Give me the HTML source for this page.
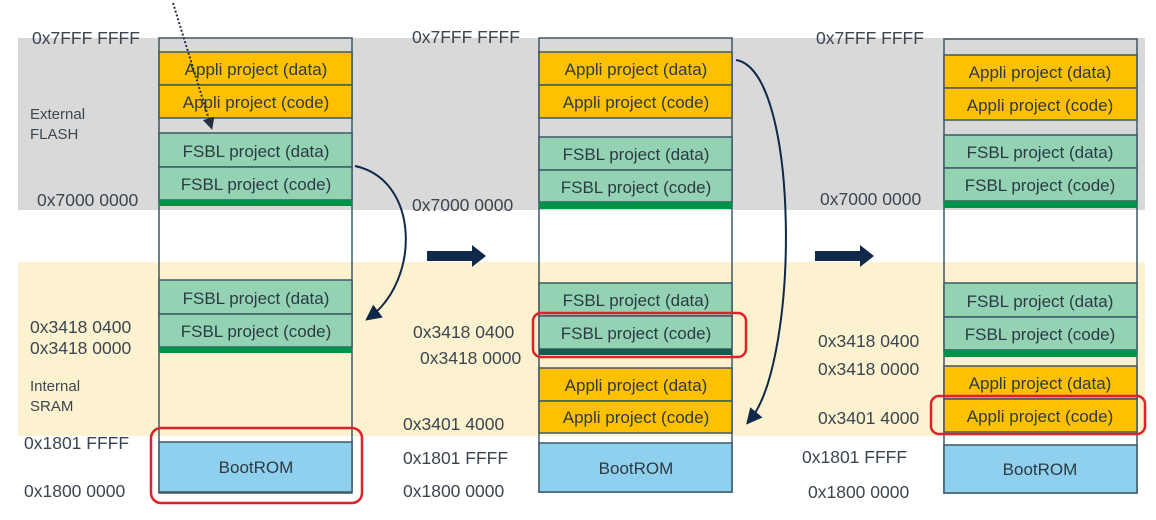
<!DOCTYPE html>
<html><head><meta charset="utf-8"><style>
html,body{margin:0;padding:0;background:#fff;}
svg{display:block;}
text{font-family:"Liberation Sans",Arial,sans-serif;}
.lb{font-size:17.5px;fill:#3c4650;}
.sm{font-size:15px;fill:#3c4650;}
.bt{font-size:17px;fill:#2c3a44;text-anchor:middle;}
</style></head><body>
<svg width="1156" height="520" viewBox="0 0 1156 520" xmlns="http://www.w3.org/2000/svg">
<defs>
<marker id="ah" markerWidth="8" markerHeight="8" refX="5" refY="4" orient="auto" markerUnits="strokeWidth">
<path d="M0,0 L8,4 L0,8 Z" fill="#10284a"/></marker>
<marker id="ah2" markerWidth="6" markerHeight="6" refX="4" refY="3" orient="auto" markerUnits="strokeWidth">
<path d="M0,0 L6,3 L0,6 Z" fill="#243040"/></marker>
</defs>
<rect x="18" y="38" width="1127" height="172" fill="#d9d9d9"/>
<rect x="18" y="262" width="1127" height="174" fill="#fdf2d0"/>

<!-- Column 1 -->
<g stroke="#3d5966" stroke-width="1.5">
<rect x="159" y="38" width="193" height="455" fill="none"/>
<rect x="159" y="52" width="193" height="33" fill="#ffc000"/>
<rect x="159" y="85" width="193" height="33" fill="#ffc000"/>
<rect x="159" y="133" width="193" height="34" fill="#93d3b4"/>
<rect x="159" y="167" width="193" height="33" fill="#93d3b4"/>
<rect x="159" y="280" width="193" height="34" fill="#93d3b4"/>
<rect x="159" y="314" width="193" height="33" fill="#93d3b4"/>
<rect x="159" y="442" width="193" height="50" fill="#8fd0ee"/>
</g>
<rect x="159" y="200" width="193" height="6" fill="#00914a"/>
<rect x="159" y="347" width="193" height="6" fill="#00914a"/>
<rect x="151" y="428" width="211" height="75" rx="10" fill="none" stroke="#e0202a" stroke-width="2.5"/>
<text class="bt" x="256" y="75">Appli project (data)</text>
<text class="bt" x="256" y="108">Appli project (code)</text>
<text class="bt" x="256" y="157">FSBL project (data)</text>
<text class="bt" x="256" y="190">FSBL project (code)</text>
<text class="bt" x="256" y="304">FSBL project (data)</text>
<text class="bt" x="256" y="337">FSBL project (code)</text>
<text class="bt" x="256" y="473">BootROM</text>
<line x1="173" y1="3" x2="211" y2="126" stroke="#243040" stroke-width="2" stroke-dasharray="2,2" marker-end="url(#ah2)"/>
<path d="M355,166 C420,180 420,280 370,317" fill="none" stroke="#10284a" stroke-width="2" marker-end="url(#ah)"/>

<text class="lb" x="32" y="44">0x7FFF FFFF</text>
<text class="sm" x="30" y="119">External</text>
<text class="sm" x="30" y="139">FLASH</text>
<text class="lb" x="37" y="206">0x7000 0000</text>
<text class="lb" x="30" y="333">0x3418 0400</text>
<text class="lb" x="30" y="354">0x3418 0000</text>
<text class="sm" x="30" y="391">Internal</text>
<text class="sm" x="30" y="411">SRAM</text>
<text class="lb" x="24" y="449">0x1801 FFFF</text>
<text class="lb" x="24" y="497">0x1800 0000</text>

<path d="M427,251 L472,251 L472,245 L486,256 L472,267 L472,261 L427,261 Z" fill="#10284a"/>
<path d="M815,251 L860,251 L860,245 L874,256 L860,267 L860,261 L815,261 Z" fill="#10284a"/>

<!-- Column 2 -->
<g stroke="#3d5966" stroke-width="1.5">
<rect x="539" y="38" width="193" height="454" fill="none"/>
<rect x="539" y="52" width="193" height="33" fill="#ffc000"/>
<rect x="539" y="85" width="193" height="33" fill="#ffc000"/>
<rect x="539" y="137" width="193" height="33" fill="#93d3b4"/>
<rect x="539" y="170" width="193" height="32" fill="#93d3b4"/>
<rect x="539" y="283" width="193" height="33" fill="#93d3b4"/>
<rect x="539" y="316" width="193" height="33" fill="#93d3b4"/>
<rect x="539" y="368" width="193" height="33" fill="#ffc000"/>
<rect x="539" y="401" width="193" height="32" fill="#ffc000"/>
<rect x="539" y="443" width="193" height="49" fill="#8fd0ee"/>
</g>
<rect x="539" y="202" width="193" height="7" fill="#00914a"/>
<rect x="539" y="349" width="193" height="6" fill="#1a5a50"/>
<rect x="533" y="313" width="213" height="44" rx="8" fill="none" stroke="#e0202a" stroke-width="2.5"/>
<text class="bt" x="636" y="75">Appli project (data)</text>
<text class="bt" x="636" y="108">Appli project (code)</text>
<text class="bt" x="636" y="160">FSBL project (data)</text>
<text class="bt" x="636" y="193">FSBL project (code)</text>
<text class="bt" x="636" y="306">FSBL project (data)</text>
<text class="bt" x="636" y="339">FSBL project (code)</text>
<text class="bt" x="636" y="391">Appli project (data)</text>
<text class="bt" x="636" y="423">Appli project (code)</text>
<text class="bt" x="636" y="474">BootROM</text>
<path d="M736,60 C800,70 800,360 750,420" fill="none" stroke="#10284a" stroke-width="2" marker-end="url(#ah)"/>

<text class="lb" x="412" y="43">0x7FFF FFFF</text>
<text class="lb" x="412" y="211">0x7000 0000</text>
<text class="lb" x="413" y="338">0x3418 0400</text>
<text class="lb" x="420" y="364">0x3418 0000</text>
<text class="lb" x="403" y="430">0x3401 4000</text>
<text class="lb" x="403" y="464">0x1801 FFFF</text>
<text class="lb" x="403" y="497">0x1800 0000</text>

<!-- Column 3 -->
<g stroke="#3d5966" stroke-width="1.5">
<rect x="944" y="39" width="193" height="454" fill="none"/>
<rect x="944" y="55" width="193" height="33" fill="#ffc000"/>
<rect x="944" y="88" width="193" height="32" fill="#ffc000"/>
<rect x="944" y="135" width="193" height="33" fill="#93d3b4"/>
<rect x="944" y="168" width="193" height="33" fill="#93d3b4"/>
<rect x="944" y="283" width="193" height="34" fill="#93d3b4"/>
<rect x="944" y="317" width="193" height="33" fill="#93d3b4"/>
<rect x="944" y="366" width="193" height="33" fill="#ffc000"/>
<rect x="944" y="399" width="193" height="33" fill="#ffc000"/>
<rect x="944" y="445" width="193" height="48" fill="#8fd0ee"/>
</g>
<rect x="944" y="201" width="193" height="7" fill="#00914a"/>
<rect x="944" y="350" width="193" height="7" fill="#00914a"/>
<rect x="931" y="396" width="214" height="38" rx="8" fill="none" stroke="#e0202a" stroke-width="2.5"/>
<text class="bt" x="1040" y="78">Appli project (data)</text>
<text class="bt" x="1040" y="111">Appli project (code)</text>
<text class="bt" x="1040" y="158">FSBL project (data)</text>
<text class="bt" x="1040" y="191">FSBL project (code)</text>
<text class="bt" x="1040" y="307">FSBL project (data)</text>
<text class="bt" x="1040" y="340">FSBL project (code)</text>
<text class="bt" x="1040" y="389">Appli project (data)</text>
<text class="bt" x="1040" y="422">Appli project (code)</text>
<text class="bt" x="1040" y="475">BootROM</text>

<text class="lb" x="816" y="44">0x7FFF FFFF</text>
<text class="lb" x="820" y="205">0x7000 0000</text>
<text class="lb" x="818" y="347">0x3418 0400</text>
<text class="lb" x="818" y="375">0x3418 0000</text>
<text class="lb" x="818" y="424">0x3401 4000</text>
<text class="lb" x="802" y="463">0x1801 FFFF</text>
<text class="lb" x="808" y="498">0x1800 0000</text>
</svg>
</body></html>
